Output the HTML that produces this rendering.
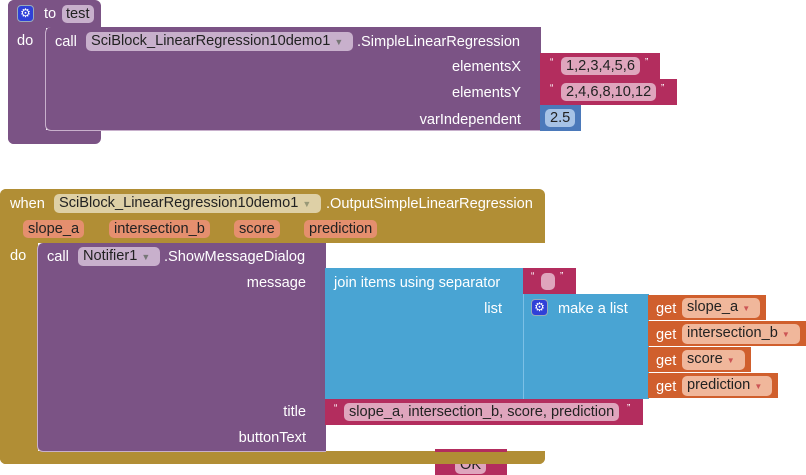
<!DOCTYPE html>
<html><head><meta charset="utf-8"><style>
body{margin:0;width:806px;height:475px;background:#fff;position:relative;overflow:hidden;font-family:"Liberation Sans",Arial,sans-serif;font-size:14.6px}
div{position:absolute;box-sizing:border-box}
.p{background:#7b5385}
.g{background:#b18e35}
.b{background:#49a4d3}
.r{background:#b32d5e}
.o{background:#d05f2d}
.n{background:#4b79ba}
.t{color:#fff;white-space:nowrap;line-height:16px}
.ra{text-align:right;width:200px}
.f{border-radius:5px;color:#222;white-space:nowrap;line-height:18px;padding:0 5px}
.fp{background:#c8b0cc}
.fg{background:#ded0a6}
.fr{background:#dfa5bd}
.fo{background:#f0b79b}
.fo2{background:#e58f6e}
.fn{background:#a7c3e6}
.q{color:#fff;font-size:10px}
.ic{background:#3040d8;border:1px solid #9ab;border-radius:4px;width:17px;height:17px;color:#fff;font-size:12px;text-align:center;line-height:15px}
</style></head><body>
<!-- procedure -->
<div class="p" style="left:8px;top:0;width:93px;height:28px;border-radius:6px 6px 0 0"></div>
<div class="p" style="left:8px;top:0;width:38px;height:144px;border-radius:6px 0 0 6px"></div>
<div class="p" style="left:8px;top:130px;width:93px;height:14px;border-radius:0 0 6px 6px"></div>
<div class="ic" style="left:17px;top:5px">⚙</div>
<div class="t" style="left:44px;top:6px">to</div>
<div class="f fp" style="left:62px;top:5px;padding:0 4px">test</div>
<div class="t" style="left:17px;top:33px">do</div>
<div class="p" style="left:45px;top:27px;width:496px;height:104px;border-left:1px solid #c8b0cc;border-bottom:1px solid #c8b0cc;border-radius:6px 0 0 6px"></div>
<div class="t" style="left:55px;top:34px">call</div>
<div class="f fp" style="left:86px;top:32px;width:267px">SciBlock_LinearRegression10demo1 <span style="font-size:9px;color:#777">▼</span></div>
<div class="t" style="left:357px;top:34px">.SimpleLinearRegression</div>
<div class="t ra" style="left:321px;top:59px">elementsX</div>
<div class="t ra" style="left:321px;top:85px">elementsY</div>
<div class="t ra" style="left:321px;top:112px">varIndependent</div>
<div class="r" style="left:540px;top:53px;width:120px;height:26px"></div>
<div class="q" style="left:550px;top:57px">“</div>
<div class="f fr" style="left:561px;top:57px">1,2,3,4,5,6</div>
<div class="q" style="left:645px;top:57px">”</div>
<div class="r" style="left:540px;top:79px;width:137px;height:26px"></div>
<div class="q" style="left:550px;top:83px">“</div>
<div class="f fr" style="left:561px;top:83px">2,4,6,8,10,12</div>
<div class="q" style="left:661px;top:83px">”</div>
<div class="n" style="left:540px;top:105px;width:41px;height:26px"></div>
<div class="f fn" style="left:545px;top:109px">2.5</div>
<!-- event -->
<div class="g" style="left:0;top:189px;width:545px;height:54px;border-radius:6px 6px 0 0"></div>
<div class="g" style="left:0;top:189px;width:38px;height:275px;border-radius:6px 0 0 6px"></div>
<div class="g" style="left:0;top:451px;width:545px;height:13px;border-radius:0 0 6px 6px"></div>
<div class="t" style="left:10px;top:196px">when</div>
<div class="f fg" style="left:54px;top:194px;width:267px">SciBlock_LinearRegression10demo1 <span style="font-size:9px;color:#997">▼</span></div>
<div class="t" style="left:326px;top:196px">.OutputSimpleLinearRegression</div>
<div class="f fo2" style="left:23px;top:220px">slope_a</div>
<div class="f fo2" style="left:109px;top:220px">intersection_b</div>
<div class="f fo2" style="left:234px;top:220px">score</div>
<div class="f fo2" style="left:304px;top:220px">prediction</div>
<div class="t" style="left:10px;top:248px">do</div>
<div class="p" style="left:37px;top:243px;width:289px;height:209px;border-left:1px solid #c8b0cc;border-bottom:1px solid #c8b0cc;border-radius:6px 0 0 6px"></div>
<div class="t" style="left:47px;top:249px">call</div>
<div class="f fp" style="left:78px;top:247px;width:82px">Notifier1 <span style="font-size:9px;color:#777">▼</span></div>
<div class="t" style="left:164px;top:249px">.ShowMessageDialog</div>
<div class="t ra" style="left:106px;top:275px">message</div>
<div class="t ra" style="left:106px;top:404px">title</div>
<div class="t ra" style="left:106px;top:430px">buttonText</div>
<div class="b" style="left:325px;top:268px;width:199px;height:131px"></div>
<div class="t" style="left:334px;top:275px">join items using separator</div>
<div class="t ra" style="left:302px;top:301px">list</div>
<div class="r" style="left:523px;top:268px;width:53px;height:26px"></div>
<div class="q" style="left:531px;top:271px">“</div>
<div class="f fr" style="left:541px;top:273px;width:14px;height:17px"></div>
<div class="q" style="left:560px;top:271px">”</div>
<div class="b" style="left:523px;top:294px;width:126px;height:105px;border-left:1px solid #7cc0e6"></div>
<div class="ic" style="left:531px;top:299px">⚙</div>
<div class="t" style="left:558px;top:301px">make a list</div>
<div class="o" style="left:648px;top:295px;width:118px;height:25px"></div>
<div class="t" style="left:656px;top:301px">get</div>
<div class="f fo" style="left:682px;top:298px;width:78px">slope_a <span style="font-size:8px;color:#c55">▼</span></div>
<div class="o" style="left:648px;top:321px;width:158px;height:25px"></div>
<div class="t" style="left:656px;top:327px">get</div>
<div class="f fo" style="left:682px;top:324px;width:118px">intersection_b <span style="font-size:8px;color:#c55">▼</span></div>
<div class="o" style="left:648px;top:347px;width:103px;height:25px"></div>
<div class="t" style="left:656px;top:353px">get</div>
<div class="f fo" style="left:682px;top:350px;width:63px">score <span style="font-size:8px;color:#c55">▼</span></div>
<div class="o" style="left:648px;top:373px;width:130px;height:25px"></div>
<div class="t" style="left:656px;top:379px">get</div>
<div class="f fo" style="left:682px;top:376px;width:90px">prediction <span style="font-size:8px;color:#c55">▼</span></div>
<div class="r" style="left:325px;top:399px;width:318px;height:26px"></div>
<div class="q" style="left:334px;top:403px">“</div>
<div class="f fr" style="left:344px;top:403px">slope_a, intersection_b, score, prediction</div>
<div class="q" style="left:627px;top:403px">”</div>
<div class="r" style="left:435px;top:449px;width:72px;height:26px"></div>
<div class="f fr" style="left:455px;top:456px;color:#222">OK</div>
<div class="g" style="left:0;top:452px;width:545px;height:12px;border-radius:0 0 6px 6px"></div>
</body></html>
